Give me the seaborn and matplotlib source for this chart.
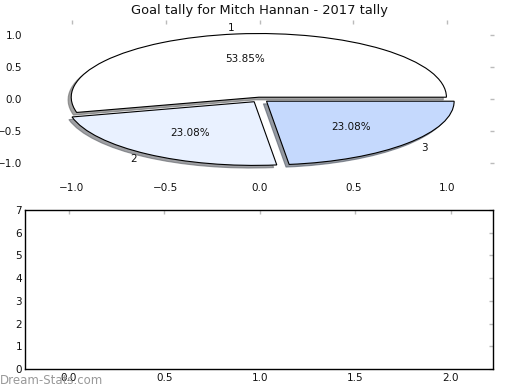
import matplotlib
matplotlib.use('Agg')
import matplotlib.pyplot as plt
import seaborn as sns

labels = ['1', '2', '3']
goals = [7, 3, 3]
colors = ['#ffffff', '#e9f1ff', '#c5d9fd']
explode = [0.03, 0.05, 0.05]
title = 'Goal tally for Mitch Hannan - 2017 tally'
pie_ticks = [-1.0, -0.5, 0.0, 0.5, 1.0]
bar_xticks = [0.0, 0.5, 1.0, 1.5, 2.0]
bar_yticks = [0, 1, 2, 3, 4, 5, 6, 7]

sns.set_theme(style='white')
plt.rcParams['font.family'] = ['DejaVu Sans']

fig = plt.figure(figsize=(5.2, 3.9), dpi=100)

ax1 = fig.add_axes([25 / 520, 1 - 178.7 / 390, (494 - 25) / 520, (178.7 - 19.5) / 390])
ax1.pie(goals, labels=labels, colors=colors, explode=explode, autopct='%.2f%%',
        shadow=dict(ox=-0.012, oy=-0.03, shade=0.6, alpha=0.6), startangle=0, frame=True,
        wedgeprops=dict(edgecolor='black', linewidth=0.8),
        textprops=dict(fontsize=7.5, color='#111111'))
ax1.set_aspect('auto')
ax1.set_xlim(-1.25, 1.25)
ax1.set_ylim(-1.25, 1.25)
for s in ax1.spines.values():
    s.set_visible(False)
ax1.set_xticks(pie_ticks)
ax1.set_yticks(pie_ticks)
ax1.tick_params(direction='in', length=3, width=1, color='#bbbbbb', top=True, right=True,
                labelsize=7.5, pad=3, labelcolor='#111111')
ax1.tick_params(axis='y', pad=2)
ax1.set_title(title, fontsize=9.4, pad=4, color='#111111')

ax2 = fig.add_axes([25 / 520, 1 - 369 / 390, 468 / 520, 159 / 390])
sns.barplot(x=[0, 1, 2], y=[0, 0, 0], ax=ax2, native_scale=True, color='#c5d9fd')
ax2.set_xlim(-0.23, 2.22)
ax2.set_ylim(0, 7)
ax2.set_xticks(bar_xticks)
ax2.set_xticklabels([f'{v:.1f}' for v in bar_xticks])
ax2.set_yticks(bar_yticks)
for s in ax2.spines.values():
    s.set_visible(True)
    s.set_color('black')
    s.set_linewidth(1)
ax2.tick_params(direction='in', length=3, width=1, color='#bbbbbb', top=True, right=True,
                labelsize=7.5, pad=3, labelcolor='#111111')
ax2.tick_params(axis='y', pad=2)
ax2.set_xlabel('')
ax2.set_ylabel('')

fig.text(0.0, 10 / 390, 'Dream-Stats.com', fontsize=8.5, color='#999999', va='center', ha='left')

fig.savefig('out.png', dpi=100)
